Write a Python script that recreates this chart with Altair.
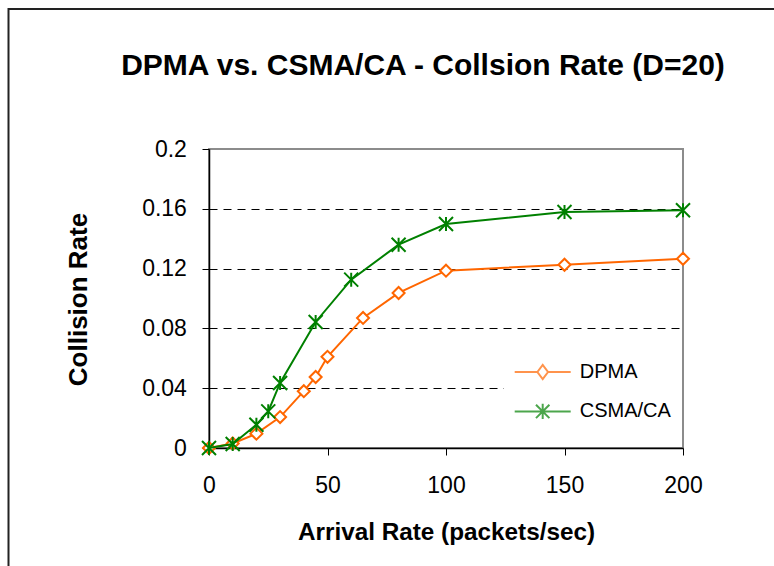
import altair as alt
import pandas as pd

# ---- data ----
dpma_x = [0, 10, 20, 30, 40, 45, 50, 65, 80, 100, 150, 200]
dpma_y = [0.0, 0.003, 0.0096, 0.0207, 0.038, 0.0475, 0.061, 0.087, 0.1037, 0.1186, 0.1226, 0.1266]
csma_x = [0, 10, 20, 25, 30, 45, 60, 80, 100, 150, 200]
csma_y = [0.0, 0.0027, 0.0156, 0.0245, 0.0435, 0.0843, 0.1126, 0.136, 0.1498, 0.1579, 0.159]
series_names = ["DPMA", "CSMA/CA"]
series_colors = ["#FF6600", "#008000"]
x_ticks = [0, 50, 100, 150, 200]
y_ticks = [0, 0.04, 0.08, 0.12, 0.16, 0.2]

FONT = "Liberation Sans"
W, H = 474, 299
L, T = 209, 149

df = pd.concat([
    pd.DataFrame({"series": "DPMA", "rate": dpma_x, "coll": dpma_y}),
    pd.DataFrame({"series": "CSMA/CA", "rate": csma_x, "coll": csma_y}),
], ignore_index=True)

marker_shapes = {"DPMA": "diamond", "CSMA/CA": "M-1,-1L1,1M-1,1L1,-1M0,-1V1"}
marker_sizes = {"DPMA": 144, "CSMA/CA": 196}
legend_paths = [
    "M-1,0H-0.19M0.19,0H1M-0.19,0L0,-0.25L0.19,0L0,0.25Z",
    "M-1,0H1M0,-0.27V0.27M-0.24,-0.24L0.24,0.24M-0.24,0.24L0.24,-0.24",
]

x_enc = alt.X(
    "rate:Q",
    scale=alt.Scale(domain=[0, 200], nice=False, zero=False),
    axis=alt.Axis(
        values=x_ticks, title="Arrival Rate (packets/sec)", grid=False,
        labelFlush=False, labelOverlap=False, labelPadding=19.8,
        titleFontSize=24.3, titleY=91, titleBaseline="alphabetic",
    ),
)
y_enc = alt.Y(
    "coll:Q",
    scale=alt.Scale(domain=[0, 0.2], nice=False),
    axis=alt.Axis(
        values=y_ticks, format="~g", title="Collision Rate", grid=True,
        gridColor="black", gridDash=[8, 6], gridWidth=1,
        gridOpacity={"condition": {"test": "datum.value > 0.19 || datum.value < 0.01", "value": 0}, "value": 1},
        labelPadding=15.6, labelOverlap=False,
        titleFontSize=26, titleX=-122.3, titleY=150, titleAngle=270,
        titleBaseline="alphabetic", titleAlign="center",
    ),
)

frame = alt.Chart(pd.DataFrame({"k": [0]})).mark_rect(
    fill="transparent", stroke="#222222", strokeWidth=2
).encode(
    x=alt.value(8.5 - L), x2=alt.value(820 - L),
    y=alt.value(9 - T), y2=alt.value(620 - T),
)

layers = []
for name, color in zip(series_names, series_colors):
    base = alt.Chart(df).transform_filter(alt.datum.series == name)
    layers.append(base.mark_line(color=color, strokeWidth=2).encode(x=x_enc, y=y_enc))
    if name == "DPMA":
        pts = base.mark_point(shape=marker_shapes[name], size=marker_sizes[name], filled=True,
                              fill="white", stroke=color, strokeWidth=2, opacity=1)
    else:
        pts = base.mark_point(shape=marker_shapes[name], size=marker_sizes[name], filled=False,
                              stroke=color, strokeWidth=2, opacity=1)
    layers.append(pts.encode(x=x_enc, y=y_enc))

leg = alt.Legend(
    title=None, orient="none", legendX=294.7, legendY=203,
    fillColor="white", padding=10, symbolSize=3136, symbolStrokeWidth=2,
    clipHeight=20, rowPadding=19.4, labelFont=FONT, labelFontSize=20,
    labelColor="black", labelOffset=8, labelLimit=300,
)
legend_layer = alt.Chart(df).transform_filter("false").mark_point(
    filled=False, strokeWidth=2
).encode(
    x=x_enc, y=y_enc,
    color=alt.Color("series:N", scale=alt.Scale(domain=series_names, range=series_colors), legend=leg),
    shape=alt.Shape("series:N", scale=alt.Scale(domain=series_names, range=legend_paths), legend=leg),
)

chart = alt.layer(frame, *layers, legend_layer).properties(
    width=W, height=H,
    padding={"left": L, "top": T, "right": 774 - L - W, "bottom": 566 - T - H},
    autosize=alt.AutoSizeParams(type="none"),
    title=alt.Title(
        text="DPMA vs. CSMA/CA - Collsion Rate (D=20)", font=FONT, fontSize=30,
        fontWeight="bold", color="black", anchor="middle", baseline="alphabetic",
        offset=0, dx=-23, dy=97,
    ),
).configure_view(
    stroke="#8c8c8c", strokeWidth=2
).configure_axis(
    domainColor="black", domainWidth=1.5, tickColor="black", tickSize=7, tickWidth=1,
    labelFont=FONT, labelFontSize=23, labelColor="black",
    titleFont=FONT, titleFontWeight="bold", titleColor="black",
)

chart.save("out.html", embed_options={"renderer": "svg", "actions": False})
